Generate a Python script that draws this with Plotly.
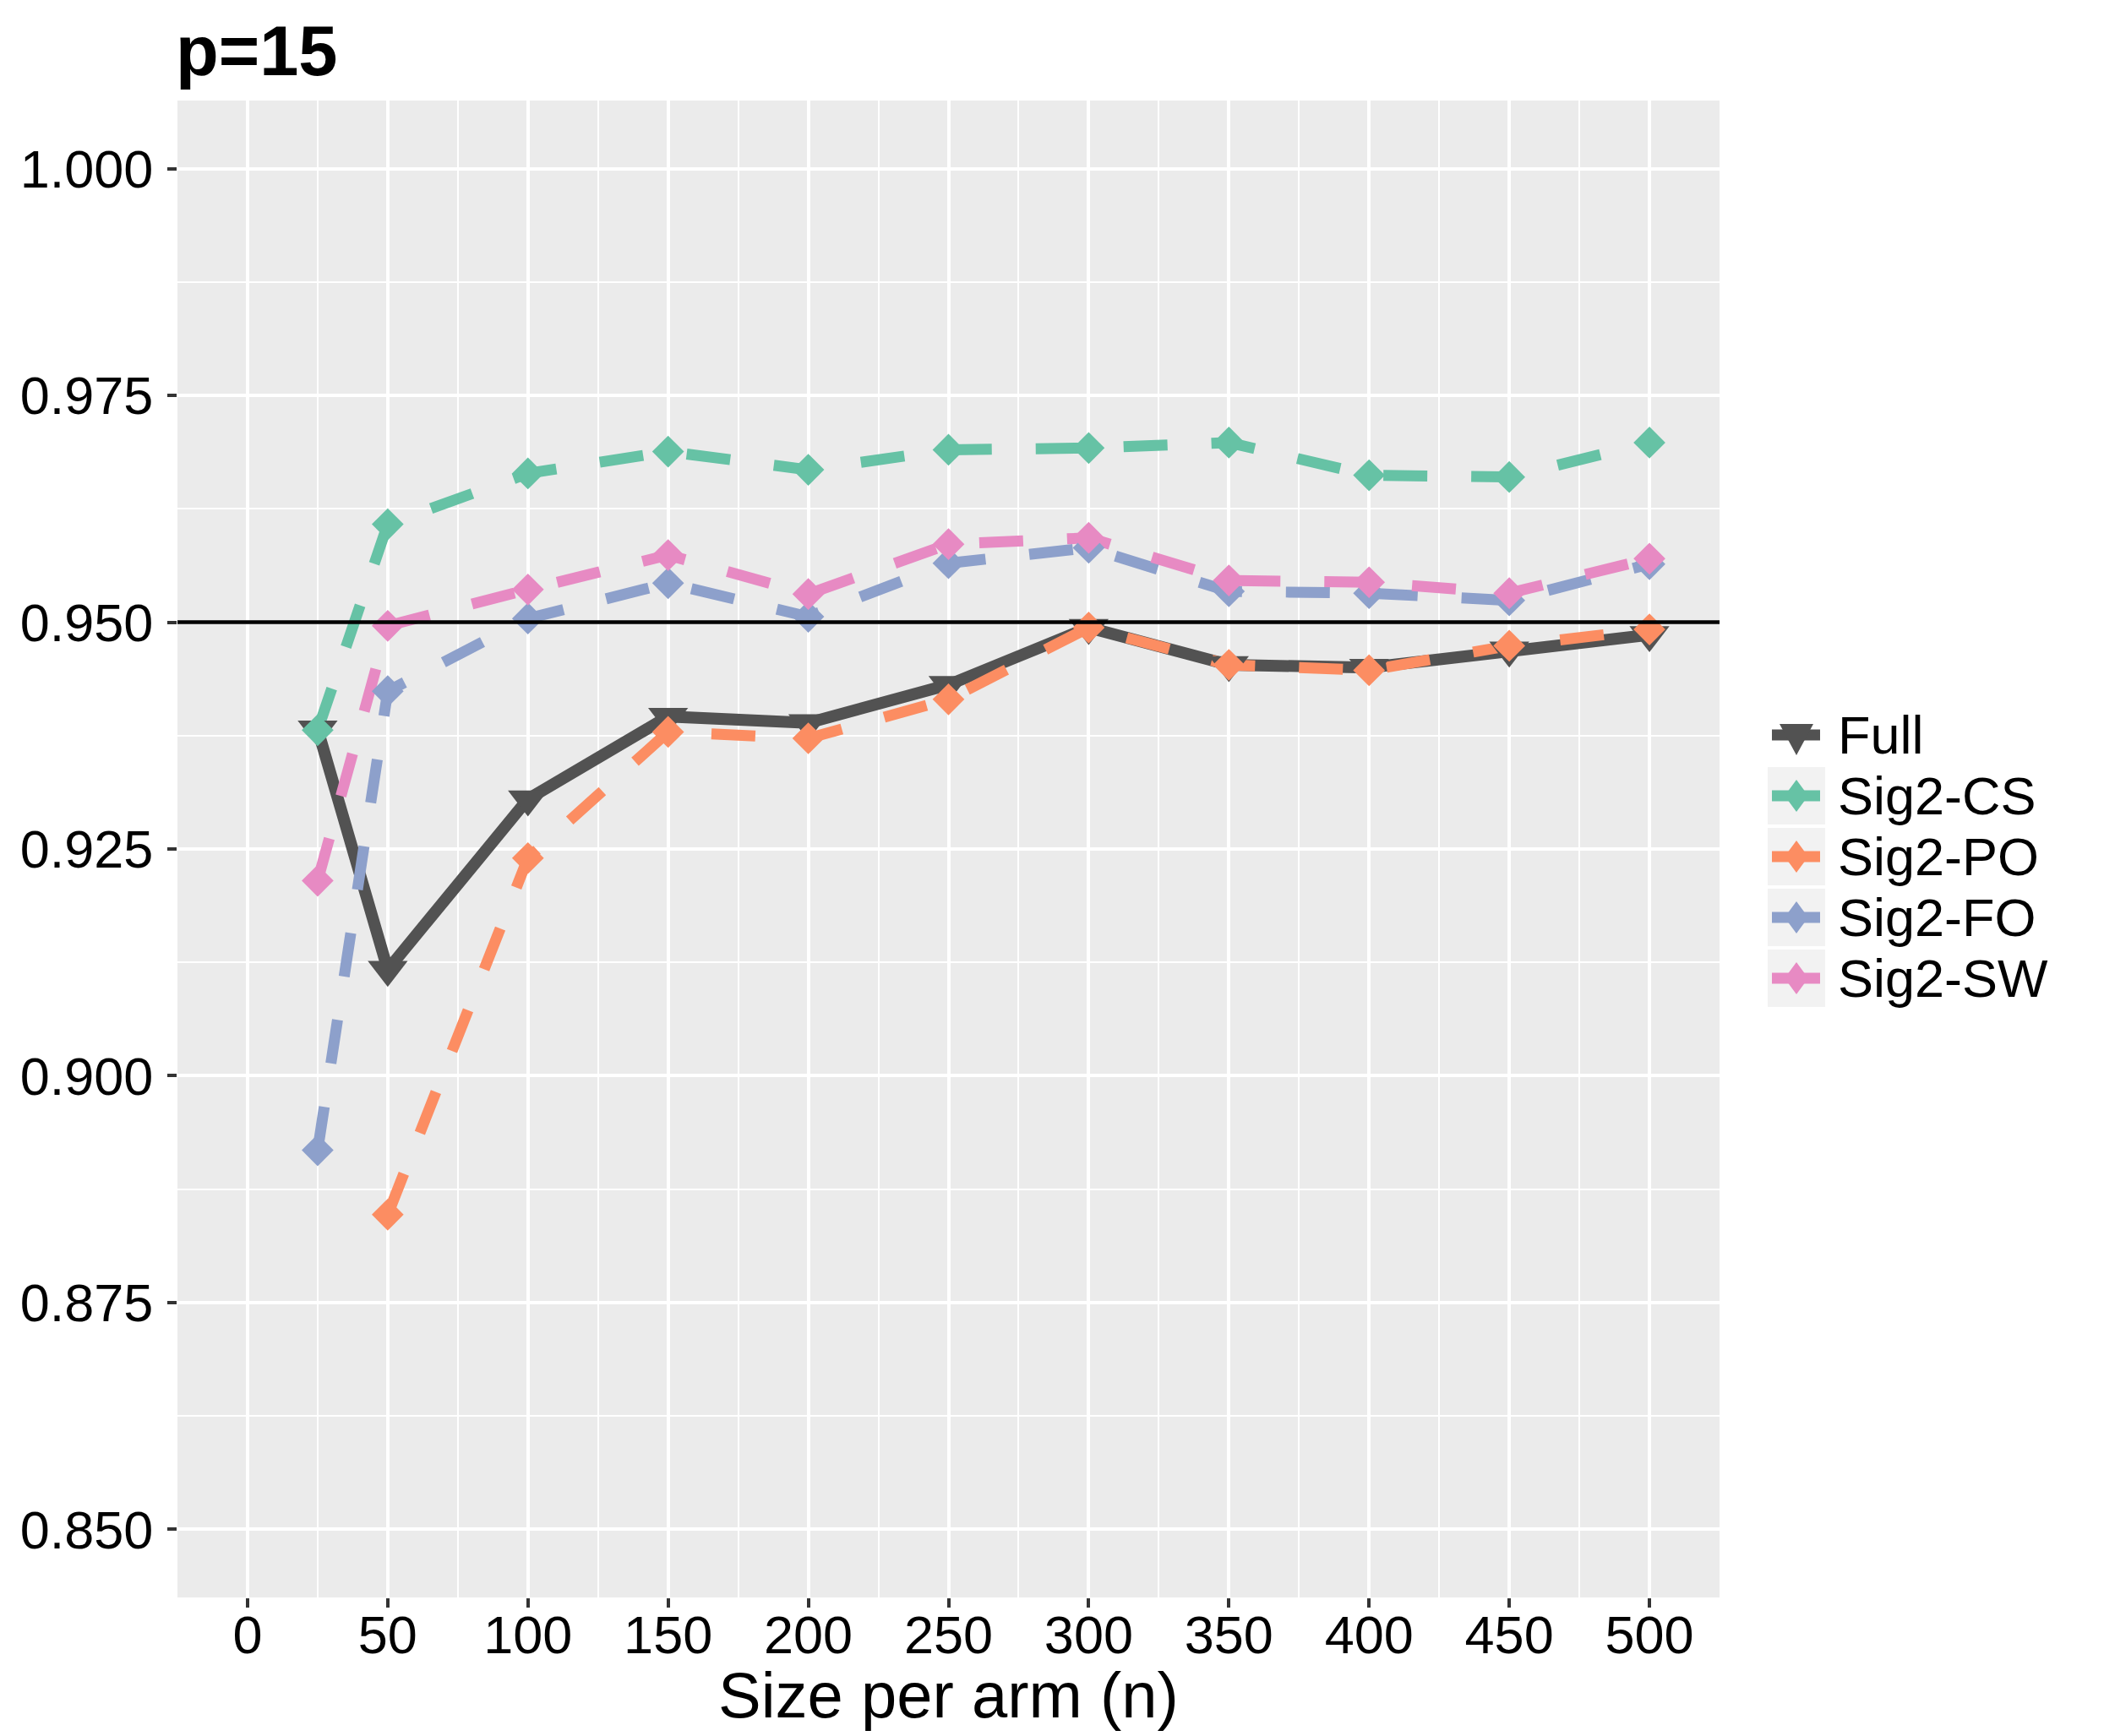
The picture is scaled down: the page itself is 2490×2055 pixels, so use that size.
import plotly.graph_objects as go

# sample size per arm
n_vals = [25, 50, 100, 150, 200, 250, 300, 350, 400, 450, 500]

# coverage for each method (None = outside plotted limits)
full = [0.9382, 0.9117, 0.9305, 0.9396, 0.9389, 0.9431, 0.9494, 0.9453, 0.9450, 0.9469, 0.9486]
sig2_cs = [0.9381, 0.9608, 0.9664, 0.9688, 0.9668, 0.9690, 0.9692, 0.9698, 0.9662, 0.9660, 0.9698]
sig2_po = [None, 0.8847, 0.9240, 0.9379, 0.9372, 0.9415, 0.9494, 0.9453, 0.9447, 0.9474, 0.9492]
sig2_fo = [0.8918, 0.9424, 0.9504, 0.9543, 0.9506, 0.9565, 0.9582, 0.9534, 0.9532, 0.9524, 0.9564]
sig2_sw = [0.9215, 0.9496, 0.9536, 0.9574, 0.9531, 0.9586, 0.9593, 0.9546, 0.9544, 0.9532, 0.9570]

series_names = ["Full", "Sig2-CS", "Sig2-PO", "Sig2-FO", "Sig2-SW"]
series_vals = [full, sig2_cs, sig2_po, sig2_fo, sig2_sw]
colors = ["#525252", "#66C2A5", "#FC8D62", "#8DA0CB", "#E78AC3"]

target = 0.95
y_ticks = [0.850, 0.875, 0.900, 0.925, 0.950, 0.975, 1.000]
x_ticks = [0, 50, 100, 150, 200, 250, 300, 350, 400, 450, 500]

W, H = 2490, 2055
PL, PR, PT, PB = 202, 2027, 111, 1883   # panel edges in pixels
FONT = "Liberation Sans, Arial, sans-serif"


def px_x(px):
    return (px - PL) / (PR - PL)


def px_y(py):
    return (PB - py) / (PB - PT)


fig = go.Figure()

# lines first, then points (like ggplot layers)
for name, vals, col in zip(series_names, series_vals, colors):
    fig.add_trace(go.Scatter(
        x=n_vals, y=vals, mode="lines", name=name, showlegend=False,
        line=dict(color=col, width=14 if name == "Full" else 13,
                  dash="solid" if name == "Full" else "52px,52px"),
        connectgaps=False, hoverinfo="skip",
    ))
for name, vals, col in zip(series_names, series_vals, colors):
    fig.add_trace(go.Scatter(
        x=n_vals, y=vals, mode="markers", name=name, showlegend=False,
        marker=dict(color=col, size=41 if name == "Full" else 29,
                    symbol="triangle-down" if name == "Full" else "diamond",
                    line=dict(width=0)),
    ))

fig.add_hline(y=target, line=dict(color="black", width=4), layer="above")

# hand-built legend to the right of the panel
shapes = []
annotations = []
for i, (name, col) in enumerate(zip(series_names, colors)):
    top = 828 + 72 * i
    cy = top + 34
    shapes.append(dict(type="rect", xref="paper", yref="paper",
                       x0=px_x(2084), x1=px_x(2152), y0=px_y(top), y1=px_y(top + 68),
                       fillcolor="#F2F2F2", line=dict(width=0), layer="below"))
    shapes.append(dict(type="line", xref="paper", yref="paper",
                       x0=px_x(2089), x1=px_x(2146), y0=px_y(cy), y1=px_y(cy),
                       line=dict(color=col, width=13)))
    if name == "Full":
        path = "M -20,13 L 20,13 L 0,-24 Z"
    else:
        path = "M 0,19 L 14,0 L 0,-19 L -14,0 Z"
    shapes.append(dict(type="path", xref="paper", yref="paper",
                       xsizemode="pixel", ysizemode="pixel",
                       xanchor=px_x(2118), yanchor=px_y(cy), path=path,
                       fillcolor=col, line=dict(width=0)))
    annotations.append(dict(text=name, xref="paper", yref="paper",
                            x=px_x(2165), y=px_y(cy), xanchor="left", yanchor="middle",
                            showarrow=False, font=dict(family=FONT, size=63, color="black")))

# x axis title, centred under the panel
annotations.append(dict(text="Size per arm (n)", xref="paper", yref="paper",
                        x=0.5, y=px_y(1998), xanchor="center", yanchor="middle",
                        showarrow=False, font=dict(family=FONT, size=76, color="black")))

fig.update_layout(
    width=W, height=H,
    margin=dict(l=PL, r=W - PR, t=PT, b=H - PB),
    paper_bgcolor="white", plot_bgcolor="#EBEBEB",
    font=dict(family=FONT, color="black"),
    title=dict(text="<b>p=15</b>", font=dict(family=FONT, size=83, color="black"),
               xref="container", yref="container", x=200 / W, xanchor="left",
               y=1 - 52 / H, yanchor="middle"),
    showlegend=False,
    shapes=shapes + list(fig.layout.shapes),
    annotations=annotations,
)

fig.update_xaxes(
    range=[-25, 525], tickvals=x_ticks, ticks="outside", ticklen=11, tickwidth=3.5,
    tickcolor="#333333", tickfont=dict(family=FONT, size=63, color="black"),
    ticklabelstandoff=-22,
    showgrid=True, gridcolor="white", gridwidth=4, zeroline=False, showline=False,
    minor=dict(dtick=25, tick0=25, showgrid=True, gridcolor="white", gridwidth=2, ticks=""),
    automargin=False,
)
fig.update_yaxes(
    range=[0.8425, 1.0075], tickvals=y_ticks, tickformat=".3f", ticks="outside",
    ticklen=11, tickwidth=3.5, tickcolor="#333333",
    tickfont=dict(family=FONT, size=63, color="black"),
    ticklabelstandoff=4,
    showgrid=True, gridcolor="white", gridwidth=4, zeroline=False, showline=False,
    minor=dict(dtick=0.0125, tick0=0.8625, showgrid=True, gridcolor="white", gridwidth=2, ticks=""),
    automargin=False,
)

fig.write_html("out.html")
